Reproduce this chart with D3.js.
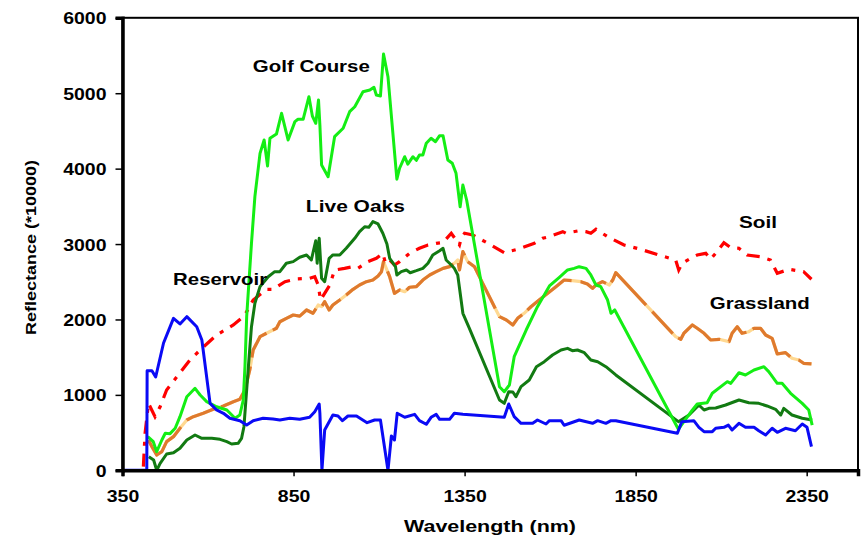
<!DOCTYPE html>
<html>
<head>
<meta charset="utf-8">
<script src="https://cdn.jsdelivr.net/npm/d3@7"></script>
<style>
  html, body { margin: 0; padding: 0; background: #fff; }
  svg text { font-family: "Liberation Sans", Arial, sans-serif; font-weight: bold; fill: #000; }
</style>
</head>
<body>
<svg id="chart" width="861" height="536"></svg>
<script>
// ---------- data (wavelength nm, reflectance *10000) ----------
const xTicks = [350, 850, 1350, 1850, 2350];
const yTicks = [0, 1000, 2000, 3000, 4000, 5000, 6000];

const reservoir = [[350,0],[421,0],[422,1320],[436,1320],[447,1237],[470,1688],[499,2015],[518,1940],[538,2037],[567,1904],[582,1728],[606,888],[625,800],[645,756],[664,690],[693,658],[713,600],[732,658],[761,690],[790,680],[810,667],[839,690],[868,676],[897,703],[912,777],[925,879],[927,756],[933,0],[941,534],[965,733],[980,720],[993,658],[1009,720],[1034,720],[1065,631],[1087,667],[1104,667],[1126,0],[1136,455],[1145,402],[1153,756],[1175,703],[1204,742],[1218,658],[1238,610],[1252,703],[1267,742],[1277,676],[1306,676],[1320,756],[1345,742],[1466,703],[1479,879],[1495,711],[1515,623],[1549,623],[1563,667],[1588,614],[1598,658],[1632,658],[1641,597],[1685,667],[1724,623],[1739,658],[1763,623],[1778,658],[1792,658],[1972,491],[1985,645],[2020,658],[2035,570],[2050,512],[2074,512],[2084,557],[2108,570],[2121,600],[2132,534],[2152,623],[2171,570],[2196,570],[2210,525],[2230,468],[2249,557],[2264,504],[2288,557],[2317,525],[2337,614],[2351,570],[2364,313]];

const golfCourse = [[424,446],[440,380],[450,247],[465,402],[475,491],[489,486],[504,557],[518,711],[538,976],[562,1087],[577,998],[596,910],[625,843],[655,800],[679,690],[693,733],[703,932],[708,1374],[713,2037],[727,3010],[737,3628],[752,4203],[764,4380],[774,4035],[781,4402],[800,4459],[815,4734],[834,4380],[854,4623],[863,4654],[878,4654],[895,4954],[905,4698],[915,4601],[923,4910],[927,4579],[932,4048],[951,3893],[970,4424],[995,4535],[1014,4755],[1029,4821],[1053,5020],[1073,5043],[1085,5079],[1092,4977],[1104,4963],[1113,5520],[1126,5219],[1152,3860],[1160,4005],[1175,4158],[1184,4060],[1199,4158],[1209,4110],[1218,4181],[1228,4181],[1238,4336],[1252,4402],[1265,4357],[1277,4437],[1287,4437],[1301,4115],[1314,4071],[1325,3938],[1337,3495],[1345,3783],[1356,3584],[1452,1109],[1466,1042],[1481,1131],[1495,1506],[1530,1860],[1563,2169],[1598,2444],[1627,2559],[1651,2656],[1670,2678],[1685,2700],[1705,2678],[1719,2590],[1734,2457],[1748,2435],[1768,2258],[1778,2082],[1789,2126],[1975,544],[1991,645],[2016,800],[2030,879],[2059,896],[2074,1021],[2118,1175],[2128,1153],[2152,1294],[2171,1264],[2196,1330],[2225,1374],[2239,1308],[2264,1153],[2278,1153],[2303,1021],[2337,888],[2356,800],[2366,600]];

const liveOaks = [[427,180],[441,137],[450,0],[460,93],[479,216],[499,233],[518,292],[538,402],[562,468],[582,424],[611,424],[635,411],[655,380],[669,349],[688,358],[698,424],[705,578],[718,1374],[727,1904],[737,2214],[752,2435],[776,2567],[795,2634],[810,2634],[829,2745],[849,2767],[868,2825],[888,2855],[902,2789],[915,3045],[919,2745],[925,3076],[932,2546],[941,2501],[954,2811],[965,2855],[985,2855],[1004,2944],[1029,3076],[1043,3164],[1058,3230],[1070,3222],[1082,3297],[1097,3266],[1111,3143],[1123,3001],[1131,2811],[1148,2700],[1152,2590],[1165,2634],[1180,2656],[1191,2620],[1209,2647],[1228,2678],[1243,2745],[1257,2855],[1277,2912],[1287,2944],[1296,2789],[1306,2745],[1320,2678],[1330,2590],[1345,2082],[1364,1883],[1452,932],[1466,888],[1479,1042],[1491,1038],[1500,976],[1515,1109],[1539,1197],[1560,1374],[1583,1440],[1607,1529],[1632,1595],[1651,1617],[1665,1586],[1680,1595],[1700,1560],[1719,1463],[1739,1440],[1763,1374],[1792,1264],[1975,645],[2006,733],[2035,866],[2050,800],[2064,822],[2084,826],[2113,866],[2152,932],[2181,896],[2210,888],[2234,853],[2259,809],[2274,733],[2283,822],[2307,733],[2337,690],[2366,667]];

const soil = [[411,48],[416,491],[426,888],[445,711],[460,843],[479,1065],[509,1241],[547,1463],[577,1595],[625,1794],[674,1927],[703,2037],[713,2103],[732,2258],[771,2400],[791,2400],[805,2444],[825,2501],[859,2537],[897,2546],[912,2567],[922,2457],[929,2258],[956,2457],[970,2656],[999,2678],[1024,2700],[1038,2678],[1068,2767],[1092,2811],[1111,2877],[1119,2745],[1131,2789],[1145,2722],[1160,2767],[1189,2877],[1218,2944],[1243,2988],[1267,3010],[1287,3020],[1311,3143],[1325,3054],[1335,2988],[1340,3076],[1350,3143],[1374,3120],[1418,3010],[1466,2885],[1505,2930],[1554,3010],[1578,3076],[1598,3098],[1637,3164],[1646,3143],[1685,3177],[1705,3164],[1719,3143],[1734,3196],[1768,3098],[1816,2988],[1865,2930],[1918,2855],[1967,2789],[1976,2656],[1986,2745],[2016,2825],[2030,2855],[2055,2877],[2069,2798],[2088,2899],[2108,3018],[2128,2952],[2152,2944],[2176,2855],[2215,2832],[2244,2789],[2264,2612],[2298,2665],[2341,2634],[2364,2533]];

const grassland = [[426,402],[436,313],[450,203],[465,247],[479,380],[499,446],[518,557],[538,667],[557,711],[586,756],[615,809],[645,853],[674,910],[693,941],[708,1065],[722,1330],[732,1595],[752,1772],[771,1817],[800,1883],[810,1970],[829,2015],[849,2059],[868,2045],[888,2126],[907,2082],[922,2192],[932,2170],[941,2236],[954,2126],[965,2192],[985,2258],[1004,2324],[1024,2400],[1043,2457],[1063,2501],[1082,2523],[1097,2576],[1107,2634],[1113,2767],[1121,2678],[1131,2567],[1145,2347],[1160,2391],[1175,2368],[1189,2427],[1209,2435],[1228,2523],[1248,2590],[1267,2634],[1287,2678],[1306,2700],[1320,2745],[1330,2789],[1335,2656],[1345,2899],[1359,2767],[1379,2700],[1403,2479],[1432,2214],[1452,2037],[1472,1993],[1491,1927],[1505,2015],[1524,2082],[1544,2169],[1568,2258],[1593,2347],[1617,2435],[1641,2523],[1665,2514],[1690,2501],[1709,2470],[1724,2413],[1734,2457],[1753,2501],[1773,2457],[1783,2523],[1792,2620],[1967,1772],[1982,1737],[1991,1817],[2016,1927],[2030,1883],[2050,1817],[2069,1728],[2094,1737],[2123,1706],[2132,1817],[2147,1904],[2161,1817],[2181,1838],[2196,1883],[2215,1883],[2230,1794],[2249,1750],[2264,1542],[2288,1560],[2307,1485],[2327,1463],[2341,1419],[2364,1410]];

// label anchors given in data units (wavelength, reflectance)
const seriesLabels = [
  {text: "Golf Course", wl: 731,  v: 5285, len: 117},
  {text: "Live Oaks",   wl: 886,  v: 3429, len: 99},
  {text: "Reservoir",   wl: 498,  v: 2457, len: 94},
  {text: "Soil",        wl: 2152, v: 3213, len: 38},
  {text: "Grassland",   wl: 2067, v: 2139, len: 100}
];

// ---------- layout ----------
const svg = d3.select("#chart");
const x = d3.scaleLinear().domain([350, 2500]).range([122.5, 858]);
const y = d3.scaleLinear().domain([0, 6000]).range([470.3, 17.8]);
const SX = 1.18; // horizontal stretch of the original picture's text

// frame
svg.append("rect").attr("x", x(350)).attr("y", y(6000))
  .attr("width", x(2500) - x(350)).attr("height", y(0) - y(6000))
  .attr("fill", "none").attr("stroke", "#000").attr("stroke-width", 2);

// lines
const line = d3.line().x(d => x(d[0])).y(d => y(d[1]));
const plot = svg.append("g");

plot.append("path").datum(grassland).attr("d", line)
  .attr("fill", "none").attr("stroke", "#FFD992").attr("stroke-width", 3.2)
  .attr("stroke-linejoin", "round");
plot.append("path").datum(grassland).attr("d", line)
  .attr("fill", "none").attr("stroke", "#DF7A2E").attr("stroke-width", 3.2)
  .attr("stroke-dasharray", "55,9,30,7").attr("stroke-linejoin", "round");

plot.append("path").datum(soil).attr("d", line)
  .attr("fill", "none").attr("stroke", "#FF0000").attr("stroke-width", 3.2)
  .attr("stroke-dasharray", "13,8,4,8");

plot.append("path").datum(liveOaks).attr("d", line)
  .attr("fill", "none").attr("stroke", "#127A12").attr("stroke-width", 3)
  .attr("stroke-linejoin", "round");

plot.append("path").datum(golfCourse).attr("d", line)
  .attr("fill", "none").attr("stroke", "#14EE14").attr("stroke-width", 3)
  .attr("stroke-linejoin", "round");

plot.append("path").datum(reservoir).attr("d", line)
  .attr("fill", "none").attr("stroke", "#0A0AF5").attr("stroke-width", 3)
  .attr("stroke-linejoin", "round");

// axes
const yAxis = d3.axisLeft(y).tickValues(yTicks).tickSize(7).tickFormat(d3.format("d"));
const gy = svg.append("g").attr("transform", `translate(${x(350)},0)`).call(yAxis);
gy.select(".domain").attr("stroke", "#000").attr("stroke-width", 3.5);
gy.selectAll(".tick line").attr("stroke", "#000").attr("stroke-width", 1.5);
gy.selectAll(".tick text").attr("x", 0).attr("dy", null).attr("y", 0)
  .attr("font-size", 16.5).attr("text-anchor", "end")
  .attr("transform", `translate(-16,6) scale(${SX},1)`);

const xAxis = d3.axisBottom(x).tickValues(xTicks).tickSize(6).tickFormat(d3.format("d"));
const gx = svg.append("g").attr("transform", `translate(0,${y(0)})`).call(xAxis);
gx.select(".domain").attr("stroke", "#000").attr("stroke-width", 3.5);
gx.selectAll(".tick line").attr("stroke", "#000").attr("stroke-width", 1.5);
gx.selectAll(".tick text").attr("y", 0).attr("dy", null)
  .attr("font-size", 16.5).attr("text-anchor", "middle")
  .attr("transform", `translate(0,31.5) scale(${SX},1)`);
svg.selectAll(".tick text").attr("fill", "#000").style("font-family", "'Liberation Sans', Arial, sans-serif").style("font-weight", "bold");

// axis titles
svg.append("text").attr("x", 490).attr("y", 532)
  .attr("text-anchor", "middle").attr("font-size", 16.5)
  .attr("textLength", 172).attr("lengthAdjust", "spacingAndGlyphs")
  .text("Wavelength (nm)");
svg.append("text").attr("transform", "translate(36,247.5) rotate(-90)")
  .attr("text-anchor", "middle").attr("font-size", 15.5)
  .attr("textLength", 175).attr("lengthAdjust", "spacingAndGlyphs")
  .text("Reflectance (*10000)");

// series annotations
svg.append("g").selectAll("text").data(seriesLabels).join("text")
  .attr("x", d => x(d.wl)).attr("y", d => y(d.v))
  .attr("font-size", 16.5)
  .attr("textLength", d => d.len).attr("lengthAdjust", "spacingAndGlyphs")
  .text(d => d.text);
</script>
</body>
</html>
